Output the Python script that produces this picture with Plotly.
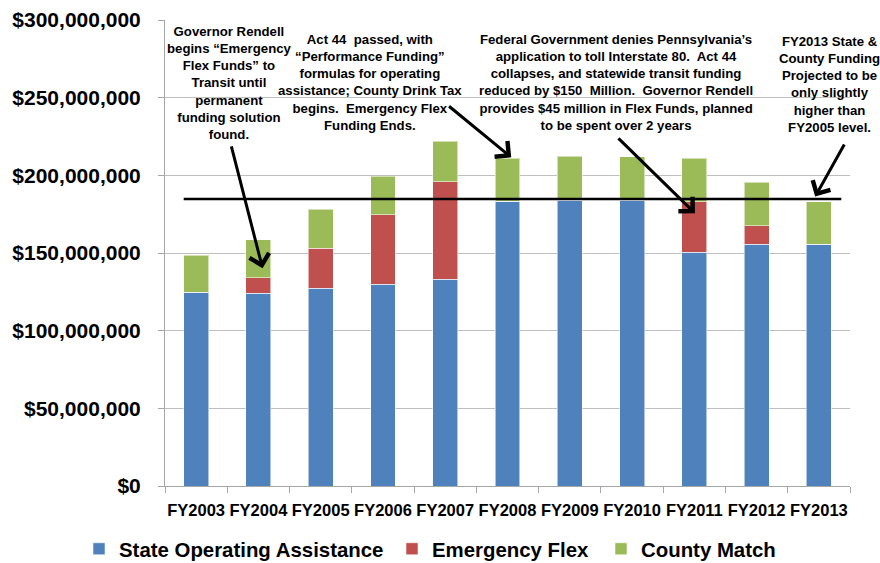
import plotly.graph_objects as go

# Fiscal years and funding sources (millions of dollars)
years = ["FY2003", "FY2004", "FY2005", "FY2006", "FY2007", "FY2008",
         "FY2009", "FY2010", "FY2011", "FY2012", "FY2013"]
state_operating = [124.7, 124.1, 127.3, 129.8, 133.1, 183.3, 184.1, 184.1, 150.4, 155.6, 155.6]
emergency_flex = [0.0, 10.0, 25.7, 44.9, 62.8, 0.0, 0.0, 0.0, 32.6, 12.0, 0.0]
county_match = [23.8, 24.3, 25.1, 24.7, 26.0, 27.7, 28.3, 27.9, 28.0, 27.9, 27.4]
reference_level = 184.7  # FY2013 state + county funding level

y_ticks = [0, 50, 100, 150, 200, 250, 300]

M = 1_000_000
NARROW = "Liberation Sans Narrow, Arial Narrow, Liberation Sans, Arial, sans-serif"
WIDE = "Liberation Sans, Arial, sans-serif"

# name, values, colour, legend entry width
series = [
    ("State Operating Assistance", state_operating, "#4F81BD", 268),
    ("Emergency Flex", emergency_flex, "#C0504D", 164),
    ("County Match", county_match, "#9BBB59", None),
]

fig = go.Figure()
for name, vals, color, lw in series:
    fig.add_trace(go.Bar(
        x=years, y=[v * M for v in vals], name=name, legendwidth=lw,
        marker=dict(color=color, line=dict(color="rgba(255,255,255,0.55)", width=1)),
    ))

# Reference line across the chart
fig.add_shape(type="line", xref="x", yref="y", x0=-0.2, x1=10.36,
              y0=reference_level * M, y1=reference_level * M,
              line=dict(color="black", width=2.5), layer="above")

notes = [
    (229, 82.5, "Governor Rendell<br>begins “Emergency<br>Flex Funds” to<br>Transit until<br>permanent<br>funding solution<br>found."),
    (370, 82.5, "Act 44  passed, with<br>“Performance Funding”<br>formulas for operating<br>assistance; County Drink Tax<br>begins.  Emergency Flex<br>Funding Ends."),
    (616, 82.5, "Federal Government denies Pennsylvania’s<br>application to toll Interstate 80.  Act 44<br>collapses, and statewide transit funding<br>reduced by $150  Million.  Governor Rendell<br>provides $45 million in Flex Funds, planned<br>to be spent over 2 years"),
    (829, 84.5, "FY2013 State &<br>County Funding<br>Projected to be<br>only slightly<br>higher than<br>FY2005 level."),
]

# plot area in pixels: x 165..850, y 20..486
def px_x(p):
    return (p - 165) / 685.0

def px_y(p):
    return (486 - p) / 466.0

annotations = []
for cx, cy, txt in notes:
    annotations.append(dict(
        xref="paper", yref="paper", x=px_x(cx), y=px_y(cy),
        xanchor="center", yanchor="middle", text=txt, showarrow=False,
        align="center", font=dict(family=NARROW, size=13.2, color="black", weight="bold"),
    ))

# Arrows: (year index, value in millions, tail offset in px)
arrows = [
    (1.067, 140.2, -31.6, -123.3),
    (5.06, 211.6, -63.7, -52.3),
    (8.01, 175.6, -78.0, -76.3),
    (9.94, 186.3, 30.0, -53.7),
]
for xi, yv, ax, ay in arrows:
    annotations.append(dict(
        xref="x", yref="y", x=xi, y=yv * M, ax=ax, ay=ay,
        showarrow=True, arrowhead=4, arrowsize=1.3, arrowwidth=3,
        arrowcolor="black", text="", standoff=0,
    ))

fig.update_layout(
    width=880, height=563,
    margin=dict(l=165, r=30, t=20, b=77, autoexpand=False),
    barmode="stack", bargap=0.6,
    plot_bgcolor="white", paper_bgcolor="white",
    font=dict(family=WIDE, color="black"),
    annotations=annotations,
    legend=dict(orientation="h", xref="paper", yref="paper",
                x=px_x(79), xanchor="left", y=px_y(549), yanchor="middle",
                font=dict(family=WIDE, size=20.4, color="black", weight="bold"),
                traceorder="normal", itemclick=False),
    xaxis=dict(
        type="category", showline=True, linecolor="#A6A6A6", linewidth=1,
        ticks="outside", tickson="boundaries", ticklen=6, tickcolor="#A6A6A6",
        tickfont=dict(family=WIDE, size=16.5, color="black", weight="bold"),
        tickangle=0, automargin=False, range=[-0.5, 10.5], ticklabelstandoff=9,
    ),
    yaxis=dict(
        range=[0, 300 * M], tickvals=[t * M for t in y_ticks], tickformat="$,.0f",
        showgrid=True, gridcolor="#BFBFBF", gridwidth=1,
        showline=True, linecolor="#A6A6A6", linewidth=1,
        ticks="outside", ticklen=6, tickcolor="#A6A6A6",
        tickfont=dict(family=WIDE, size=21, color="black", weight="bold"),
        ticklabelstandoff=13, zeroline=False, automargin=False,
    ),
)

fig.write_html("out.html")
